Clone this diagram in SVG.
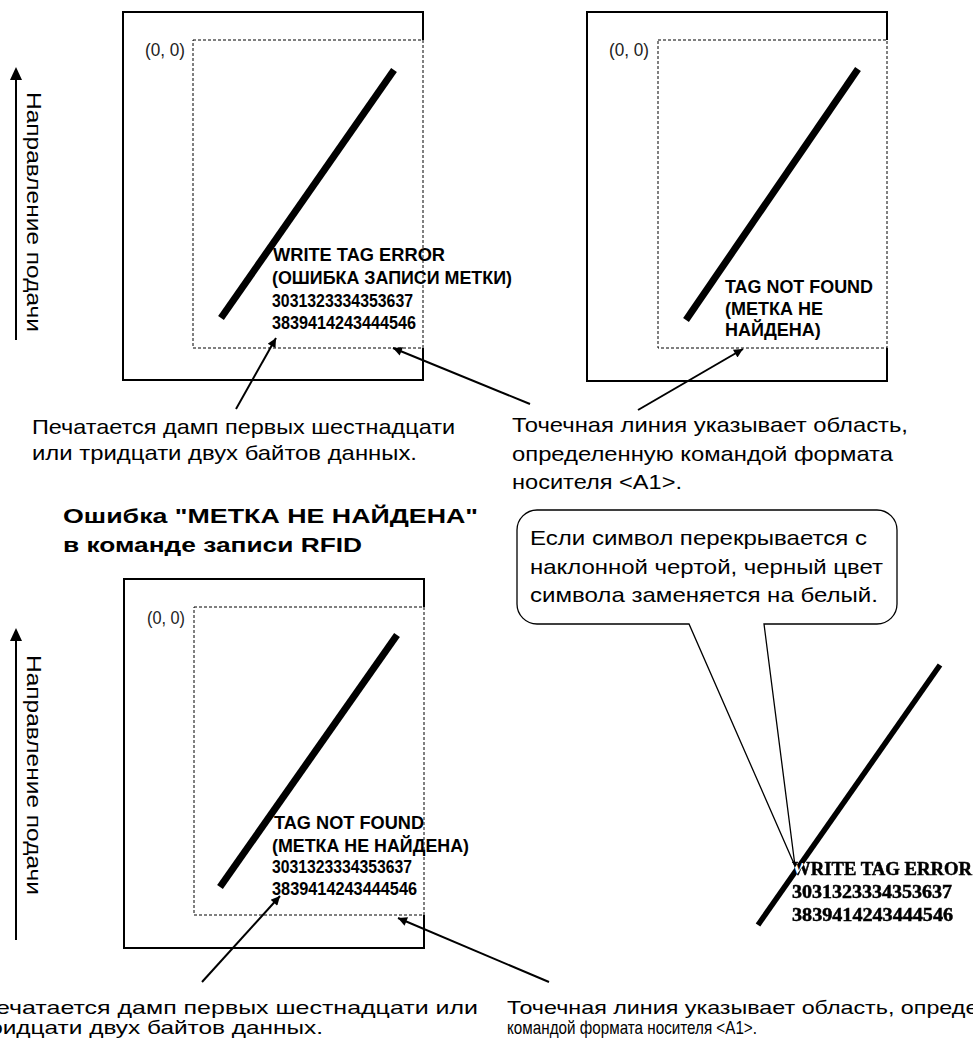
<svg xmlns="http://www.w3.org/2000/svg" width="973" height="1038" viewBox="0 0 973 1038">
<style>
.frame{fill:none;stroke:#000;stroke-width:2}
.dash{fill:none;stroke:#000;stroke-width:1;stroke-dasharray:3,2}
.slash{stroke:#000;stroke-width:7}
.org{font-family:"Liberation Sans",Arial,sans-serif;font-size:18px;fill:#222}
.tag{font-family:"Liberation Sans",Arial,sans-serif;font-size:18px;font-weight:bold;fill:#000}
.cap{font-family:"Liberation Sans",Arial,sans-serif;font-size:21px;fill:#000}
.capb{font-family:"Liberation Sans",Arial,sans-serif;font-size:19px;fill:#000}
.title{font-family:"Liberation Sans",Arial,sans-serif;font-size:21px;font-weight:bold;fill:#000}
.bmp{font-family:"Liberation Serif","Times New Roman",serif;font-size:19px;font-weight:bold}
.conn{stroke:#000;stroke-width:2;fill:none}
</style>
<defs>
<marker id="ah" viewBox="0 0 10 10" refX="10" refY="5" markerWidth="11" markerHeight="9" markerUnits="userSpaceOnUse" orient="auto">
<path d="M0,0 L10,5 L0,10 Z" fill="#000"/>
</marker>
<filter id="soft" x="-10%" y="-10%" width="120%" height="120%"><feGaussianBlur stdDeviation="0.6"/></filter>
<clipPath id="slashclip"><polygon points="937.7,663.4 942.3,666.6 760.3,926.6 755.7,923.4"/></clipPath>
</defs>

<g id="feed-top">
<line x1="16" y1="340" x2="16" y2="78" stroke="#000" stroke-width="2"/>
<polygon points="16,67 10,80 22,80" fill="#000"/>
<text class="cap" transform="translate(27,92) rotate(90)" textLength="240" lengthAdjust="spacingAndGlyphs">Направление подачи</text>
</g>

<g id="panel-write-error">
<path class="frame" d="M423,40 V12 H123 V380 H423 V348"/>
<rect class="dash" x="193" y="40" width="230" height="308"/>
<line class="slash" x1="221" y1="318" x2="394" y2="70"/>
<text class="org" x="145" y="56" textLength="40" lengthAdjust="spacingAndGlyphs">(0, 0)</text>
<text class="tag" x="273" y="261" textLength="172" lengthAdjust="spacingAndGlyphs">WRITE TAG ERROR</text>
<text class="tag" x="272" y="284" textLength="240" lengthAdjust="spacingAndGlyphs">(ОШИБКА ЗАПИСИ МЕТКИ)</text>
<text class="tag" x="272" y="307" textLength="141" lengthAdjust="spacingAndGlyphs">3031323334353637</text>
<text class="tag" x="272" y="329" textLength="144" lengthAdjust="spacingAndGlyphs">3839414243444546</text>
</g>

<g id="panel-not-found-1">
<path class="frame" d="M887,40 V12 H587 V381 H887 V348"/>
<rect class="dash" x="658" y="40" width="229" height="308"/>
<line class="slash" x1="686" y1="320" x2="858" y2="69"/>
<text class="org" x="609" y="56" textLength="40" lengthAdjust="spacingAndGlyphs">(0, 0)</text>
<text class="tag" x="725" y="293" textLength="148" lengthAdjust="spacingAndGlyphs">TAG NOT FOUND</text>
<text class="tag" x="725" y="315">(МЕТКА НЕ</text>
<text class="tag" x="725" y="336">НАЙДЕНА)</text>
</g>

<g id="caption-dump-1">
<text class="cap" x="32" y="434" textLength="423" lengthAdjust="spacingAndGlyphs">Печатается дамп первых шестнадцати</text>
<text class="cap" x="32" y="460" textLength="385" lengthAdjust="spacingAndGlyphs">или тридцати двух байтов данных.</text>
</g>

<g id="caption-dotted-1">
<text class="cap" x="512" y="432" textLength="396" lengthAdjust="spacingAndGlyphs">Точечная линия указывает область,</text>
<text class="cap" x="512" y="461" textLength="381" lengthAdjust="spacingAndGlyphs">определенную командой формата</text>
<text class="cap" x="512" y="489" textLength="170" lengthAdjust="spacingAndGlyphs">носителя &lt;A1&gt;.</text>
</g>

<g id="title">
<text class="title" x="63" y="523" textLength="415" lengthAdjust="spacingAndGlyphs">Ошибка "МЕТКА НЕ НАЙДЕНА"</text>
<text class="title" x="63" y="552" textLength="299" lengthAdjust="spacingAndGlyphs">в команде записи RFID</text>
</g>

<g id="feed-bottom">
<line x1="16" y1="940" x2="16" y2="639" stroke="#000" stroke-width="2"/>
<polygon points="16,628 10,641 22,641" fill="#000"/>
<text class="cap" transform="translate(27,655) rotate(90)" textLength="240" lengthAdjust="spacingAndGlyphs">Направление подачи</text>
</g>

<g id="panel-not-found-2">
<path class="frame" d="M424,607 V579 H124 V948 H424 V915"/>
<rect class="dash" x="194" y="607" width="230" height="308"/>
<line class="slash" x1="220" y1="887" x2="397" y2="635"/>
<text class="org" x="147" y="624" textLength="38" lengthAdjust="spacingAndGlyphs">(0, 0)</text>
<text class="tag" x="274" y="829" textLength="150" lengthAdjust="spacingAndGlyphs">TAG NOT FOUND</text>
<text class="tag" x="272" y="852" textLength="197" lengthAdjust="spacingAndGlyphs">(МЕТКА НЕ НАЙДЕНА)</text>
<text class="tag" x="272" y="873" textLength="140" lengthAdjust="spacingAndGlyphs">3031323334353637</text>
<text class="tag" x="272" y="895" textLength="145" lengthAdjust="spacingAndGlyphs">3839414243444546</text>
</g>

<g id="callout">
<path d="M537,510 H877 A20,20 0 0 1 897,530 V604 A20,20 0 0 1 877,624 H764 L795,866 L689,624 H537 A20,20 0 0 1 517,604 V530 A20,20 0 0 1 537,510 Z" fill="#fff" stroke="#000" stroke-width="1.3"/>
<text class="cap" x="530" y="545" textLength="337" lengthAdjust="spacingAndGlyphs">Если символ перекрывается с</text>
<text class="cap" x="530" y="574" textLength="353" lengthAdjust="spacingAndGlyphs">наклонной чертой, черный цвет</text>
<text class="cap" x="530" y="602" textLength="348" lengthAdjust="spacingAndGlyphs">символа заменяется на белый.</text>
</g>

<g id="overlap-sample">
<g class="bmp" fill="#000" stroke="#000" stroke-width="0.5" filter="url(#soft)">
<text x="792" y="875" textLength="180" lengthAdjust="spacingAndGlyphs">WRITE TAG ERROR</text>
<text x="792" y="898" textLength="160" lengthAdjust="spacingAndGlyphs">3031323334353637</text>
<text x="792" y="921" textLength="161" lengthAdjust="spacingAndGlyphs">3839414243444546</text>
</g>
<line x1="940" y1="665" x2="758" y2="925" stroke="#000" stroke-width="5.5" filter="url(#soft)"/>
<g class="bmp" fill="#fff" clip-path="url(#slashclip)">
<text x="792" y="875" textLength="180" lengthAdjust="spacingAndGlyphs">WRITE TAG ERROR</text>
</g>
</g>

<g id="caption-dump-2">
<text class="capb" x="-22" y="1014" textLength="500" lengthAdjust="spacingAndGlyphs">Печатается дамп первых шестнадцати или</text>
<text class="capb" x="-22" y="1034" textLength="345" lengthAdjust="spacingAndGlyphs">тридцати двух байтов данных.</text>
</g>

<g id="caption-dotted-2">
<text class="capb" x="507" y="1014" textLength="552" lengthAdjust="spacingAndGlyphs">Точечная линия указывает область, определенную</text>
<text class="capb" x="507" y="1034" textLength="250" lengthAdjust="spacingAndGlyphs">командой формата носителя &lt;A1&gt;.</text>
</g>

<g id="connectors">
<line class="conn" x1="236" y1="409" x2="276" y2="338" marker-end="url(#ah)"/>
<line class="conn" x1="530" y1="404" x2="393" y2="348" marker-end="url(#ah)"/>
<line class="conn" x1="638" y1="410" x2="743" y2="349" marker-end="url(#ah)"/>
<line class="conn" x1="202" y1="982" x2="280" y2="896" marker-end="url(#ah)"/>
<line class="conn" x1="549" y1="982" x2="398" y2="918" marker-end="url(#ah)"/>
</g>
</svg>
